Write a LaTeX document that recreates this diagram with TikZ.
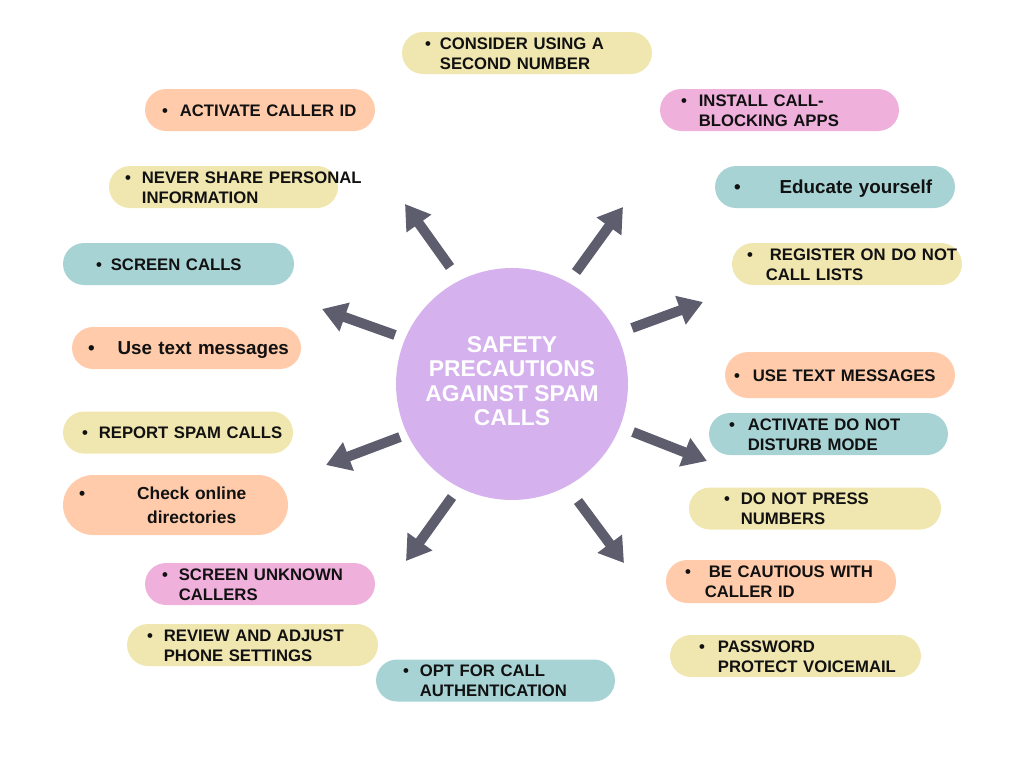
\documentclass[tikz,border=0pt]{standalone}
\usepackage{fontspec}
\setmainfont{Liberation Sans}
\usetikzlibrary{arrows.meta}
\definecolor{pillyellow}{HTML}{F0E6B0}
\definecolor{pillpeach}{HTML}{FFCBAA}
\definecolor{pillteal}{HTML}{A8D3D5}
\definecolor{pillpink}{HTML}{F0B0DC}
\definecolor{hublilac}{HTML}{D5B2EE}
\definecolor{arrowgray}{HTML}{5E5D6E}
\definecolor{inkblack}{HTML}{111111}
% bullet, gap, then the (wrapped) lines
\newcommand\bul[3][l]{\raisebox{-1.2pt}[\height][\depth]{\mbox{\textbullet\hspace{#2}\begin{tabular}[t]{@{}#1@{}}#3\end{tabular}}}}

\begin{document}
\begin{tikzpicture}[x=0.02cm,y=-0.02cm,
  pill/.style={rounded corners=0.42cm,minimum height=0.84cm,inner xsep=0pt,
    inner ysep=0pt,align=left,text=inkblack,
    font=\fontsize{9.5}{11.4}\selectfont\bfseries},
  softtext/.style={font=\fontsize{10.7}{13.6}\selectfont\bfseries},
  bigarrow/.style={draw=arrowgray,line width=0.2cm,
    -{Triangle[width=0.58cm,length=0.48cm]}}]
  \useasboundingbox (0,0) rectangle (1024,768);

  % centre
  \node[circle,fill=hublilac,minimum size=4.64cm,text=white,
    font=\fontsize{13}{14}\selectfont\bfseries] (hub) at (512,384)
    {\begin{tabular}{@{}c@{}}SAFETY\\PRECAUTIONS\\AGAINST SPAM\\CALLS\end{tabular}};

  % left column
  \node[pill,fill=pillpeach,minimum width=4.6cm,text width=3.92cm] (callerid) at (260,110)
    {\bul{0.24cm}{ACTIVATE CALLER ID}};
  \node[pill,fill=pillyellow,minimum width=4.58cm,text width=3.94cm] (share) at (223.5,187)
    {\bul{0.22cm}{NEVER SHARE PERSONAL\\INFORMATION}};
  \node[pill,fill=pillteal,minimum width=4.62cm,text width=3.3cm] (screen) at (178.5,264)
    {\bul{0.18cm}{SCREEN CALLS}};
  \node[pill,softtext,fill=pillpeach,minimum width=4.58cm,text width=3.94cm] (texting) at (186.5,348)
    {\bul{0.46cm}{Use text messages}};
  \node[pill,fill=pillyellow,minimum width=4.6cm,text width=3.84cm] (report) at (178,432.5)
    {\bul{0.22cm}{REPORT SPAM CALLS}};
  \node[pill,fill=pillpeach,minimum width=4.5cm,minimum height=1.2cm,
    rounded corners=0.6cm,text width=3.86cm,
    font=\fontsize{9.9}{13.6}\selectfont\bfseries] (directories) at (175.5,505)
    {\bul[c]{1.04cm}{Check online\\directories}};
  \node[pill,fill=pillpink,minimum width=4.6cm,text width=3.92cm] (unknown) at (260,584)
    {\bul{0.22cm}{SCREEN UNKNOWN\\CALLERS}};
  \node[pill,fill=pillyellow,minimum width=5.02cm,text width=4.22cm] (settings) at (252.5,645)
    {\bul{0.22cm}{REVIEW AND ADJUST\\PHONE SETTINGS}};

  % top and bottom
  \node[pill,fill=pillyellow,minimum width=5cm,text width=4.08cm] (second) at (527,53)
    {\bul{0.18cm}{CONSIDER USING A\\SECOND NUMBER}};
  \node[pill,fill=pillteal,minimum width=4.78cm,text width=3.7cm] (auth) at (495.5,680.5)
    {\bul{0.22cm}{OPT FOR CALL\\AUTHENTICATION}};

  % right column
  \node[pill,fill=pillpink,minimum width=4.78cm,text width=3.94cm] (apps) at (779.5,110)
    {\bul{0.24cm}{INSTALL CALL-\\BLOCKING APPS}};
  \node[pill,softtext,fill=pillteal,minimum width=4.8cm,text width=4.04cm] (educate) at (835,187)
    {\bul{0.78cm}{Educate yourself}};
  \node[pill,fill=pillyellow,minimum width=4.6cm,text width=4cm] (register) at (847,264)
    {\bul{0.34cm}{REGISTER ON DO NOT\\\hspace*{-0.08cm}CALL LISTS}};
  \node[pill,fill=pillpeach,minimum width=4.6cm,minimum height=0.92cm,
    rounded corners=0.46cm,text width=4.24cm] (sms) at (840,375)
    {\bul{0.26cm}{USE TEXT MESSAGES}};
  \node[pill,fill=pillteal,minimum width=4.78cm,text width=3.98cm] (dnd) at (828.5,434)
    {\bul{0.26cm}{ACTIVATE DO NOT\\DISTURB MODE}};
  \node[pill,fill=pillyellow,minimum width=5.04cm,text width=3.64cm] (press) at (815,508.5)
    {\bul{0.22cm}{DO NOT PRESS\\NUMBERS}};
  \node[pill,fill=pillpeach,minimum width=4.6cm,minimum height=0.86cm,text width=3.84cm] (cautious) at (781,581.5)
    {\bul{0.36cm}{BE CAUTIOUS WITH\\\hspace*{-0.08cm}CALLER ID}};
  \node[pill,fill=pillyellow,minimum width=5.02cm,text width=3.86cm] (voicemail) at (795.5,656)
    {\bul{0.26cm}{PASSWORD\\PROTECT VOICEMAIL}};

  % arrows round the hub
  \coordinate (ulS) at (450,267); \coordinate (ulE) at (405,204);
  \coordinate (urS) at (576,272); \coordinate (urE) at (623,207);
  \coordinate (luS) at (395,335); \coordinate (luE) at (322,309);
  \coordinate (ruS) at (632,328); \coordinate (ruE) at (703,302);
  \coordinate (llS) at (400,437); \coordinate (llE) at (326,465);
  \coordinate (rlS) at (633,432); \coordinate (rlE) at (707,461);
  \coordinate (blS) at (452,497); \coordinate (blE) at (406,561);
  \coordinate (brS) at (578,501); \coordinate (brE) at (624,563);
  \foreach \s/\e in {ulS/ulE,urS/urE,luS/luE,ruS/ruE,llS/llE,rlS/rlE,blS/blE,brS/brE}
    \draw[bigarrow] (\s) -- (\e);
\end{tikzpicture}
\end{document}
